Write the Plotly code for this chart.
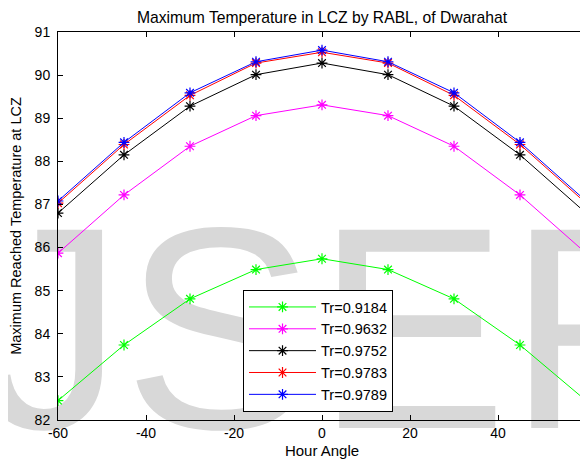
import plotly.graph_objects as go

hour_angle = [-60, -45, -30, -15, 0, 15, 30, 45, 60]
tr_labels = ["Tr=0.9184", "Tr=0.9632", "Tr=0.9752", "Tr=0.9783", "Tr=0.9789"]
tr_0_9184 = [82.45, 83.74, 84.81, 85.49, 85.74, 85.49, 84.81, 83.74, 82.45]
tr_0_9632 = [85.87, 87.22, 88.35, 89.06, 89.31, 89.06, 88.35, 87.22, 85.87]
tr_0_9752 = [86.80, 88.15, 89.28, 90.01, 90.28, 90.01, 89.28, 88.15, 86.80]
tr_0_9783 = [87.03, 88.39, 89.53, 90.28, 90.53, 90.28, 89.53, 88.39, 87.03]
tr_0_9789 = [87.08, 88.44, 89.59, 90.31, 90.58, 90.31, 89.59, 88.44, 87.08]
series = [tr_0_9184, tr_0_9632, tr_0_9752, tr_0_9783, tr_0_9789]
colors = ["#00ff00", "#ff00ff", "#000000", "#ff0000", "#0000ff"]

x_tick_vals = [-60, -40, -20, 0, 20, 40, 60]
x_tick_labels = ["-60", "-40", "-20", "0", "20", "40", "60"]
y_tick_vals = [82, 83, 84, 85, 86, 87, 88, 89, 90, 91]
y_tick_labels = ["82", "83", "84", "85", "86", "87", "88", "89", "90", "91"]

watermark_text = "JSER"
FONT = "Liberation Sans, Arial"

fig = go.Figure()

# background watermark, drawn first so it sits beneath the data
fig.add_trace(go.Scatter(
    x=[5.8], y=[83.485], mode="text", text=[watermark_text],
    textposition="middle center",
    textfont=dict(family=FONT, size=288, color="#d8d8d8"),
    showlegend=False, hoverinfo="skip", cliponaxis=False,
))

for name, vals, col in zip(tr_labels, series, colors):
    fig.add_trace(go.Scatter(
        x=hour_angle, y=vals, mode="lines+markers", name=name,
        line=dict(color=col, width=1),
        marker=dict(symbol="asterisk-open", size=9, color=col,
                    line=dict(color=col, width=1.2)),
    ))

axis_common = dict(
    showgrid=False, zeroline=False, showline=True, linecolor="black",
    linewidth=1, mirror="ticks", ticks="inside", ticklen=5, automargin=False,
    tickcolor="black", tickfont=dict(family=FONT, size=14, color="black"),
)

# the page body adds an 8px offset, so the figure is sized to fit the window
fig.update_layout(
    width=580, height=455,
    margin=dict(l=50, r=2, t=24, b=43),
    paper_bgcolor="white", plot_bgcolor="rgba(0,0,0,0)",
    title=dict(text="Maximum Temperature in LCZ by RABL, of Dwarahat",
               xref="paper", x=0.5, xanchor="center",
               yref="container", y=0.9791, yanchor="middle", automargin=False,
               font=dict(family=FONT, size=15.7, color="black")),
    xaxis=dict(range=[-60, 60], tickmode="array", tickvals=x_tick_vals,
               ticktext=x_tick_labels,
               title=dict(text="Hour Angle", standoff=5,
                          font=dict(family=FONT, size=15, color="black")),
               **axis_common),
    yaxis=dict(range=[82, 91], tickmode="array", tickvals=y_tick_vals,
               ticktext=y_tick_labels, ticklabelstandoff=4,
               title=dict(text="Maximum Reached Temperature at LCZ", standoff=10,
                          font=dict(family=FONT, size=14.5, color="black")),
               **axis_common),
    legend=dict(x=0.3504, y=0.335, xanchor="left", yanchor="top",
                bgcolor="white", bordercolor="black", borderwidth=1,
                font=dict(family=FONT, size=14.5, color="black"),
                itemwidth=67),
    showlegend=True,
)

fig.write_html("out.html")
